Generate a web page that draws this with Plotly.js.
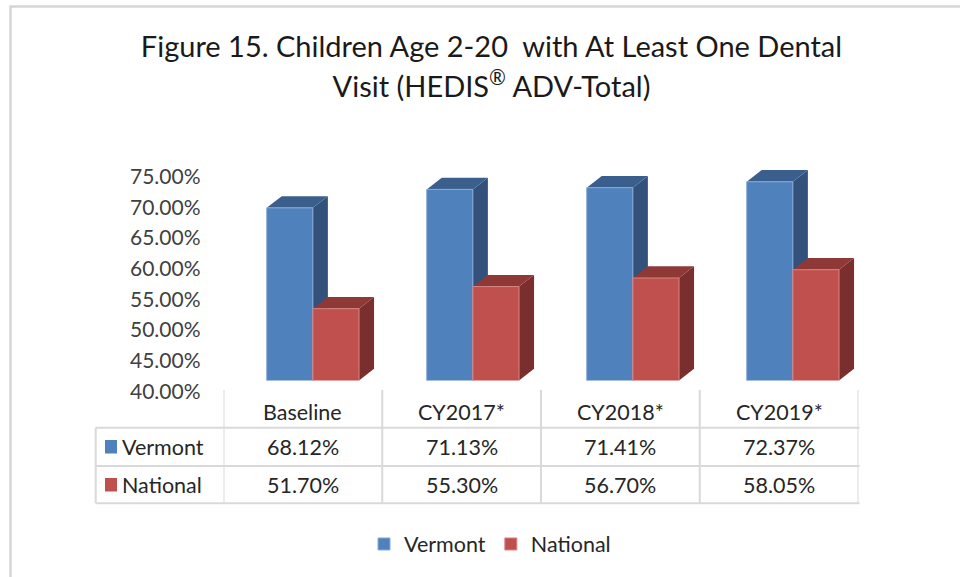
<!DOCTYPE html>
<html>
<head>
<meta charset="utf-8">
<script src="https://cdn.plot.ly/plotly-3.0.1.min.js"></script>
<style>
  html, body { margin: 0; padding: 0; background: #ffffff; }
  #chart { width: 960px; height: 577px; }
</style>
</head>
<body>
<div id="chart"></div>
<script>
// ---------- data ----------
const categories = ['Baseline', 'CY2017*', 'CY2018*', 'CY2019*'];
const seriesNames = ['Vermont', 'National'];
const vermont = [68.12, 71.13, 71.41, 72.37];
const national = [51.70, 55.30, 56.70, 58.05];
const yTickVals = [40, 45, 50, 55, 60, 65, 70, 75];
const yTickText = ['40.00%', '45.00%', '50.00%', '55.00%', '60.00%', '65.00%', '70.00%', '75.00%'];

// ---------- style ----------
const W = 960, H = 577;
const FONT = 'Lato, "Open Sans", sans-serif';
const frontColors = ['#4F81BD', '#C0504D'];
const topColors = ['#3A5F8D', '#8F3937'];
const sideColors = ['#32527B', '#7A2E2E'];
const edgeColors = ['#8AAAD6', '#D68683'];
const BARGAP = 0.423;
const DEPTH_X = 0.094;   // depth offset in category units
const DEPTH_Y = 1.9;     // depth offset in value units
const px = x => x / W;
const py = y => 1 - y / H;

const seriesValues = [vermont, national];
const idx = categories.map((c, i) => i);

const traces = seriesValues.map((vals, s) => ({
  type: 'bar',
  name: seriesNames[s],
  x: idx,
  y: vals,
  marker: { color: frontColors[s], line: { color: edgeColors[s], width: 1 } },
  hoverinfo: 'skip',
  xaxis: 'x', yaxis: 'y'
}));
// helper trace so the table axis (x2) exists
traces.push({
  type: 'scatter', x: idx, y: idx.map(() => null), mode: 'markers',
  xaxis: 'x2', yaxis: 'y2', showlegend: false, hoverinfo: 'skip'
});

// ---------- 3D faces (from data, in data coordinates) ----------
const shapes = [];
const w = (1 - BARGAP) / 2;
const base = 40;
idx.forEach(i => {
  seriesValues.forEach((vals, s) => {
    const x0 = i - w + s * w, x1 = x0 + w, top = vals[i];
    shapes.push({
      type: 'path', xref: 'x', yref: 'y', layer: 'below',
      path: `M${x1},${base} L${x1 + DEPTH_X},${base + DEPTH_Y} L${x1 + DEPTH_X},${top + DEPTH_Y} L${x1},${top} Z`,
      fillcolor: sideColors[s], line: { width: 0 }
    });
    shapes.push({
      type: 'path', xref: 'x', yref: 'y', layer: 'below',
      path: `M${x0},${top} L${x0 + DEPTH_X},${top + DEPTH_Y} L${x1 + DEPTH_X},${top + DEPTH_Y} L${x1},${top} Z`,
      fillcolor: topColors[s], line: { width: 0 }
    });
  });
});

// ---------- outer frame ----------
shapes.push({
  type: 'rect', xref: 'paper', yref: 'paper',
  x0: px(10.5), x1: 1.05, y0: -0.05, y1: py(6.5),
  line: { color: '#D6D6D6', width: 2.5 }, fillcolor: 'rgba(0,0,0,0)', layer: 'below'
});

// ---------- data table ----------
const gridColor = '#D9D9D9';
const tTop = 390, tHead = 427.7, tRow1 = 466, tBottom = 503.3, tLeft = 95.7;
for (let k = 0; k <= categories.length; k++) {
  shapes.push({
    type: 'line', xref: 'x2', yref: 'paper',
    x0: k - 0.5, x1: k - 0.5, y0: py(tTop), y1: py(tBottom),
    line: { color: gridColor, width: 2 }
  });
}
[tHead, tRow1, tBottom].forEach(yy => {
  shapes.push({
    type: 'line', xref: 'paper', yref: 'paper',
    x0: px(tLeft), x1: px(859.5), y0: py(yy), y1: py(yy),
    line: { color: gridColor, width: 2 }
  });
});
shapes.push({
  type: 'line', xref: 'paper', yref: 'paper',
  x0: px(tLeft), x1: px(tLeft), y0: py(tHead), y1: py(tBottom),
  line: { color: gridColor, width: 2 }
});

const annotations = [];
const txtFont = { family: FONT, size: 21.5, color: '#262626' };
categories.forEach((c, i) => {
  annotations.push({ xref: 'x2', yref: 'paper', x: i, y: py(412), text: c,
    showarrow: false, xanchor: 'center', yanchor: 'middle', font: txtFont });
});
const rowY = [446.5, 484.5];
seriesValues.forEach((vals, s) => {
  vals.forEach((v, i) => {
    annotations.push({ xref: 'x2', yref: 'paper', x: i, y: py(rowY[s]), text: v.toFixed(2) + '%',
      showarrow: false, xanchor: 'center', yanchor: 'middle', font: txtFont });
  });
  annotations.push({ xref: 'paper', yref: 'paper', x: px(120), y: py(rowY[s]), text: seriesNames[s],
    showarrow: false, xanchor: 'left', yanchor: 'middle', font: txtFont });
  shapes.push({ type: 'rect', xref: 'paper', yref: 'paper',
    x0: px(105), x1: px(117), y0: py(rowY[s] + 7), y1: py(rowY[s] - 6.5),
    fillcolor: frontColors[s], line: { width: 0 } });
});

const layout = {
  width: W, height: H,
  margin: { l: 0, r: 0, t: 0, b: 0 },
  paper_bgcolor: '#ffffff', plot_bgcolor: 'rgba(0,0,0,0)',
  font: { family: FONT, color: '#262626' },
  title: {
    text: '<span style="font-size:29px">Figure 15. Children Age 2-20\u00A0 with At Least One Dental</span><br>' +
          '<span style="font-size:29px">Visit (HEDIS<sup>®</sup> ADV-Total)</span>',
    font: { family: FONT, size: 31, color: '#1a1a1a' },
    x: px(491.5), xanchor: 'center', xref: 'paper',
    y: py(57), yanchor: 'middle', yref: 'paper'
  },
  barmode: 'group', bargap: BARGAP, bargroupgap: 0,
  xaxis: {
    type: 'linear', domain: [px(232.85), px(872.85)], range: [-0.5, 3.5],
    showticklabels: false, showgrid: false, zeroline: false, showline: false, ticks: ''
  },
  yaxis: {
    domain: [py(380.5), py(147.2)], range: [40, 78],
    anchor: 'free', position: px(200.5),
    tickmode: 'array', tickvals: yTickVals, ticktext: yTickText,
    ticklabelshift: 11,
    tickfont: { family: FONT, size: 21, color: '#404040' },
    showgrid: false, zeroline: false, showline: false, ticks: ''
  },
  xaxis2: {
    type: 'linear', domain: [px(223.5), px(858.5)], range: [-0.5, 3.5], anchor: 'y2',
    visible: false
  },
  yaxis2: { domain: [0, 0.05], anchor: 'x2', visible: false, range: [0, 1] },
  showlegend: true,
  legend: {
    orientation: 'h', x: px(490), xanchor: 'center', y: py(544), yanchor: 'middle',
    font: { family: FONT, size: 21.5, color: '#262626' }, bgcolor: 'rgba(0,0,0,0)'
  },
  shapes: shapes,
  annotations: annotations,
  hovermode: false
};

Plotly.newPlot('chart', traces, layout, { staticPlot: true, displayModeBar: false });
</script>
</body>
</html>
